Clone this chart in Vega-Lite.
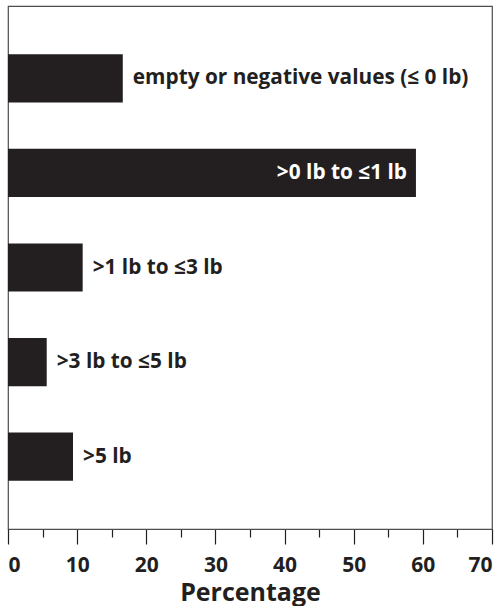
{
  "$schema": "https://vega.github.io/schema/vega-lite/v6.json",
  "width": 484,
  "height": 523,
  "autosize": "none",
  "padding": {"left": 8, "top": 6, "right": 6, "bottom": 77},
  "config": {
    "font": "Open Sans",
    "view": {"stroke": "#4d4d4d", "strokeWidth": 1.2},
    "axis": {"grid": false}
  },
  "datasets": {
    "bars": [
      {"category": "empty or negative values (≤ 0 lb)", "pct": 16.6},
      {"category": ">0 lb to ≤1 lb", "pct": 59.0},
      {"category": ">1 lb to ≤3 lb", "pct": 10.8},
      {"category": ">3 lb to ≤5 lb", "pct": 5.6},
      {"category": ">5 lb", "pct": 9.4}
    ]
  },
  "data": {"name": "bars"},
  "encoding": {
    "y": {
      "field": "category",
      "type": "nominal",
      "sort": null,
      "axis": null,
      "scale": {"paddingInner": 0.49, "paddingOuter": 0.51}
    },
    "x": {
      "field": "pct",
      "type": "quantitative",
      "scale": {"domain": [0, 70], "nice": false, "zero": true},
      "axis": {
        "orient": "bottom",
        "values": [0, 5, 10, 15, 20, 25, 30, 35, 40, 45, 50, 55, 60, 65, 70],
        "labelExpr": "datum.value % 10 === 0 ? datum.label : ''",
        "labelOverlap": false,
        "tickSize": {"condition": {"test": "datum.value % 10 !== 0", "value": 8}, "value": 15},
        "tickColor": "#231f20",
        "tickWidth": 1.2,
        "domainColor": "#4d4d4d",
        "domainWidth": 1.2,
        "labelFontSize": 21,
        "labelFontWeight": "bold",
        "labelColor": "#231f20",
        "labelFlush": true,
        "labelPadding": 10,
        "title": "Percentage",
        "titleFontSize": 25,
        "titleFontWeight": "bold",
        "titleColor": "#231f20",
        "titlePadding": 5
      }
    }
  },
  "layer": [
    {
      "mark": {"type": "bar", "color": "#231f20"}
    },
    {
      "transform": [{"filter": "datum.pct < 30"}],
      "mark": {"type": "text", "align": "left", "baseline": "middle", "dx": 10, "fontSize": 20.8, "fontWeight": "bold", "color": "#231f20"},
      "encoding": {"text": {"field": "category"}}
    },
    {
      "transform": [{"filter": "datum.pct >= 30"}],
      "mark": {"type": "text", "align": "right", "baseline": "middle", "dx": -9, "fontSize": 20.8, "fontWeight": "bold", "color": "#ffffff"},
      "encoding": {"text": {"field": "category"}}
    }
  ]
}
